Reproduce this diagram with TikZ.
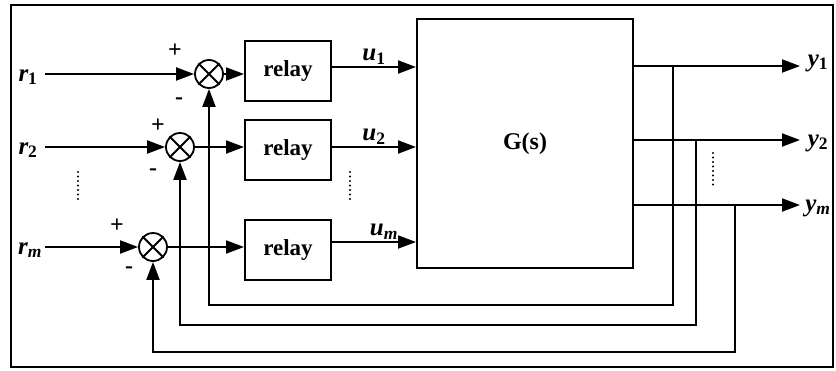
\documentclass[tikz,border=0pt]{standalone}
\usepackage{fontspec}
\setmainfont{Liberation Serif}
\usetikzlibrary{arrows.meta}
\begin{document}
\begin{tikzpicture}[x=1pt,y=-1pt,line width=2pt,
  arr/.style={-{Triangle[length=18pt,width=13pt]}},
  relaybox/.style={draw,minimum width=86pt,minimum height=60pt,inner sep=0pt,font=\fontsize{23}{26}\selectfont\bfseries},
  sumj/.style={draw,circle,minimum size=28pt,inner sep=0pt,line width=1.8pt},
  lbl/.style={inner sep=0pt,font=\fontsize{25}{28}\selectfont\bfseries\itshape},
  sgn/.style={inner sep=0pt,font=\fontsize{24}{28}\selectfont\bfseries},
  vdots/.style={line width=2.2pt,line cap=round,dash pattern=on 0pt off 4.5pt}]
\useasboundingbox (0,0) rectangle (836,370);
\draw (11,5) rectangle (833,367);
% summing junctions
\node[sumj] (s1) at (209,74) {};
\node[sumj] (s2) at (180,147) {};
\node[sumj] (s3) at (153,247) {};
\foreach \s in {s1,s2,s3}{
  \draw[line width=1.8pt] (\s.45) -- (\s.225);
  \draw[line width=1.8pt] (\s.135) -- (\s.315);
}
% relays
\node[relaybox] (rl1) at (288,71) {relay};
\node[relaybox] (rl2) at (288,150) {relay};
\node[relaybox] (rl3) at (288,250) {relay};
% plant
\node[draw,minimum width=216pt,minimum height=249pt,inner sep=0pt,font=\fontsize{24}{28}\selectfont\bfseries] (G) at (525,143.5) {G(s)};
% inputs
\node[lbl] (r1) at (28,77) {r\textsubscript{\upshape 1}};
\node[lbl] (r2) at (28,150) {r\textsubscript{\upshape 2}};
\node[lbl] (rm) at (30,250) {r\textsubscript{m}};
\coordinate (r1s) at (45,74);
\coordinate (r2s) at (45,147);
\coordinate (rms) at (45,247);
\draw[arr] (r1s) -- (s1.west);
\draw[arr] (r2s) -- (s2.west);
\draw[arr] (rms) -- (s3.west);
% signs
\node[sgn] (p1) at (175,51) {+};
\node[sgn] (m1) at (179,101) {-};
\node[sgn] (p2) at (158,126) {+};
\node[sgn] (m2) at (153,172) {-};
\node[sgn] (p3) at (117,226) {+};
\node[sgn] (m3) at (129,270) {-};
% sum -> relay
\draw[arr] (s1.east) -- (s1.east -| rl1.west);
\draw[arr] (s2.east) -- (s2.east -| rl2.west);
\draw[arr] (s3.east) -- (s3.east -| rl3.west);
% relay -> G
\coordinate (u1c) at (400,67);
\coordinate (u2c) at (400,147);
\coordinate (umc) at (400,242);
\draw[arr] (rl1.east |- u1c) -- (G.west |- u1c);
\draw[arr] (rl2.east |- u2c) -- (G.west |- u2c);
\draw[arr] (rl3.east |- umc) -- (G.west |- umc);
\node[lbl] (u1) at (374,57) {u\textsubscript{\upshape 1}};
\node[lbl] (u2) at (374,137) {u\textsubscript{\upshape 2}};
\node[lbl] (um) at (384,232) {u\textsubscript{m}};
% outputs
\coordinate (y1t) at (800,66);
\coordinate (y2t) at (800,140);
\coordinate (ymt) at (800,205);
\draw[arr] (G.east |- y1t) -- (y1t);
\draw[arr] (G.east |- y2t) -- (y2t);
\draw[arr] (G.east |- ymt) -- (ymt);
\node[lbl] (y1) at (818,63) {y\textsubscript{\upshape 1}};
\node[lbl] (y2) at (818,143) {y\textsubscript{\upshape 2}};
\node[lbl] (ym) at (818,208) {y\textsubscript{m}};
% feedback
\coordinate (b1) at (673,66);
\coordinate (b2) at (696,140);
\coordinate (b3) at (735,205);
\draw[arr] (b1) -- (b1 |- 0,305) -| (s1.south);
\draw[arr] (b2) -- (b2 |- 0,325) -| (s2.south);
\draw[arr] (b3) -- (b3 |- 0,352) -| (s3.south);
% dots
\draw[vdots] (78,172) -- (78,203);
\draw[vdots] (350,172) -- (350,203);
\draw[vdots] (713,153) -- (713,188);
\end{tikzpicture}
\end{document}
